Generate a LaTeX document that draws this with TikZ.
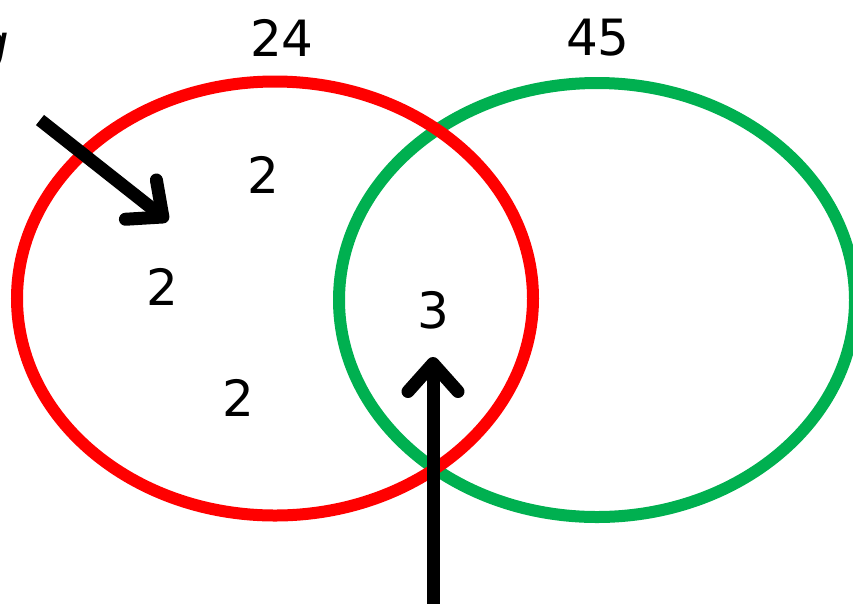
\documentclass[tikz,border=0pt]{standalone}
\usepackage{fontspec}
\setmainfont{DejaVu Sans}
\usetikzlibrary{arrows.meta}
\definecolor{vred}{HTML}{FF0000}
\definecolor{vgreen}{HTML}{00B050}
\begin{document}
\begin{tikzpicture}[x=1pt,y=-1pt,
  ring/.style={line width=12pt},
  num/.style={font=\fontsize{50}{50}\selectfont, inner sep=0pt},
  bigarrow/.style={line width=13pt, -{Straight Barb[length=28pt,width=50pt,line cap=round,line join=round]}}]
\useasboundingbox (0,0) rectangle (853,603);
\draw[ring, vgreen] (597,300) ellipse [x radius=258, y radius=217];
\draw[ring, vred] (275,298.5) ellipse [x radius=258, y radius=217];
\node[num] (t24) at (282,38) {24};
\node[num] (t45) at (598,38) {45};
\node[num] (a) at (263,175) {2};
\node[num] (b) at (162,287) {2};
\node[num] (c) at (238,398) {2};
\node[num] (d) at (433,310) {3};
\node[num, anchor=east, font=\fontsize{50}{50}\itshape\selectfont] (g) at (9,52) {g};
\coordinate (s1) at (40,120);
\coordinate (e1) at (168,221);
\coordinate (s2) at (433,610);
\coordinate (e2) at (433,357);
\draw[bigarrow] (s1) -- (e1);
\draw[bigarrow] (s2) -- (e2);
\end{tikzpicture}
\end{document}
